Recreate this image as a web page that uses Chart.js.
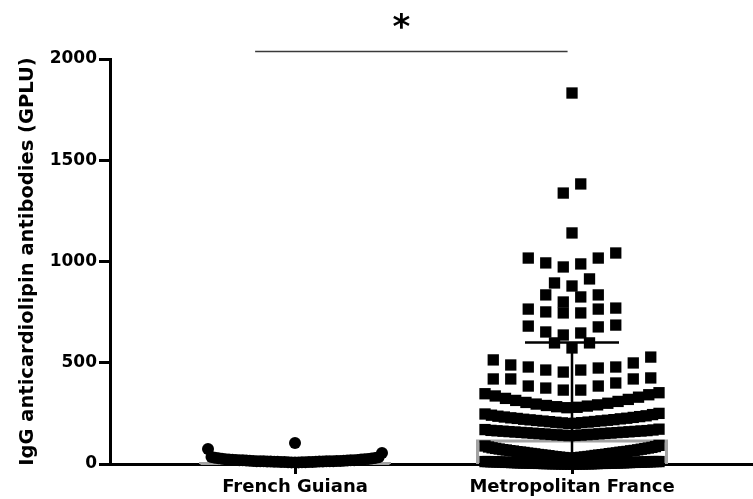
<!DOCTYPE html>
<html>
<head>
<meta charset="utf-8">
<script src="https://cdn.jsdelivr.net/npm/chart.js@4.4.1/dist/chart.umd.min.js"></script>
<style>
  html, body { margin: 0; padding: 0; background: #ffffff; overflow: hidden; }
  #wrap { position: relative; width: 753px; height: 499px; }
  canvas { display: block; }
</style>
</head>
<body>
<div id="wrap"><canvas id="chart"></canvas></div>
<script>
// ---------------- DATA ----------------
const categories = ['French Guiana', 'Metropolitan France'];
const categoryPositions = [1, 2];
const yTickValues = [0, 500, 1000, 1500, 2000];
const yAxisTitle = 'IgG anticardiolipin antibodies (GPLU)';
const significanceLabel = '*';

// French Guiana (GPLU)
const guianaValues = [104, 74, 54, 35, 33, 31, 30, 28, 27, 26, 25, 24, 23, 22, 22, 21, 20, 20, 19, 19,
  18, 18, 17, 17, 16, 16, 15, 15, 15, 14, 14, 14, 13, 13, 13, 12, 12, 12, 12, 11, 11, 11,
  10, 10, 10, 10, 9, 9, 9, 8, 8, 8];

// Metropolitan France (GPLU), read band by band
const franceLowest = [0, 0, 0, 0, 0, 0, 0, 0, 1, 1, 1, 1, 1, 1, 2, 2, 2, 2, 2, 3, 3, 3, 3, 3,
  4, 4, 4, 4, 5, 5, 5, 5, 5, 6, 6, 6, 6, 7, 7, 7, 7, 8, 8, 8, 8, 9, 9, 9, 10, 10, 10, 10,
  11, 11, 11, 12, 12, 12, 12, 12];
const franceLow = [28, 29, 30, 31, 32, 33, 34, 35, 36, 37, 38, 39, 41, 42, 43, 44, 45, 46, 47, 48,
  50, 51, 52, 53, 54, 55, 57, 58, 59, 60, 61, 62, 64, 65, 66, 67, 69, 70, 71, 73, 74, 76, 77,
  79, 80, 82, 84, 86, 89, 92];
const franceBand150 = [140, 141, 142, 143, 144, 145, 146, 147, 148, 149, 150, 151, 152, 153, 154,
  155, 156, 157, 158, 159, 160, 161, 162, 163, 164, 165, 166, 168, 170, 172];
const franceBand220 = [200, 201, 203, 204, 206, 207, 209, 210, 212, 213, 215, 216, 218, 219, 221,
  223, 225, 226, 228, 230, 232, 234, 236, 238, 241, 244, 247, 250];
const franceBand300 = [278, 280, 283, 286, 289, 292, 296, 300, 304, 309, 314, 319, 324, 330, 336,
  342, 347, 352];
const franceUpper = [365, 365, 375, 385, 385, 400, 420, 420, 420, 425,
  454, 464, 464, 474, 479, 479, 489, 499, 514, 528,
  573, 598, 598, 637, 647, 652, 677, 681, 686,
  746, 746, 751, 765, 765, 770, 800, 825, 835, 835,
  879, 894, 914, 973, 988, 993, 1017, 1017, 1042,
  1141, 1338, 1383, 1832];

// summary bar (mean) and error bar (SD)
const groupMeans = [3, 114];
const groupSD = [14, 486];

// significance bracket (value space)
const sigBarX = [0.856, 1.984];
const sigBarY = 2037;
const sigLabelPos = [1.384, 2188];

const franceValues = [].concat(franceLowest, franceLow, franceBand150, franceBand220, franceBand300, franceUpper);

// ---------------- LAYOUT (scatter-dot swarm placement) ----------------
const PX_PER_CAT = 277;          // pixel distance between categories
function swarm(values, center, rightFirst) {
  const step = 17.5 / PX_PER_CAT, span = 174 / PX_PER_CAT;
  const sorted = values.slice().sort((a, b) => a - b);
  const rows = []; let row = [];
  for (const v of sorted) {
    if (row.length && (v - row[0] > 85 ||
        (row.length >= 3 && v - row[row.length - 1] > 25) ||
        row.length >= 60)) {
      rows.push(row); row = [];
    }
    row.push(v);
  }
  if (row.length) rows.push(row);
  const pts = [];
  rows.forEach(r => {
    const n = r.length;
    const s = n > 1 ? Math.min(step, span / (n - 1)) : 0;
    const slots = [];
    for (let i = 0; i < n; i++) slots.push((i - (n - 1) / 2) * s);
    slots.sort((a, b) => (Math.abs(a) - Math.abs(b)) || (rightFirst ? b - a : a - b));
    r.forEach((v, i) => pts.push({ x: center + slots[i], y: v }));
  });
  return pts;
}

// ---------------- OVERLAYS ----------------
const overlay = {
  id: 'overlay',
  beforeDatasetsDraw(chart) {
    const { ctx, scales: { x, y } } = chart;
    ctx.save();
    ctx.strokeStyle = '#a3a3a3';
    ctx.lineWidth = 3;
    categoryPositions.forEach((c, i) => {
      const xc = x.getPixelForValue(c), half = 94.5;
      const yTop = y.getPixelForValue(groupMeans[i]);
      const y0 = y.getPixelForValue(0);
      ctx.beginPath();
      ctx.moveTo(xc - half, y0);
      ctx.lineTo(xc - half, yTop);
      ctx.lineTo(xc + half, yTop);
      ctx.lineTo(xc + half, y0);
      ctx.stroke();
    });
    ctx.restore();
  },
  afterDatasetsDraw(chart) {
    const { ctx, scales: { x, y } } = chart;
    ctx.save();
    ctx.strokeStyle = '#000';
    ctx.lineWidth = 2.5;
    categoryPositions.forEach((c, i) => {
      const xc = x.getPixelForValue(c);
      const yHi = y.getPixelForValue(groupMeans[i] + groupSD[i]);
      const yLo = y.getPixelForValue(Math.max(0, groupMeans[i] - groupSD[i]));
      ctx.beginPath();
      ctx.moveTo(xc, yLo); ctx.lineTo(xc, yHi);
      ctx.moveTo(xc - 47, yHi); ctx.lineTo(xc + 47, yHi);
      ctx.stroke();
    });
    ctx.restore();
  },
  afterDraw(chart) {
    const { ctx, scales: { x, y } } = chart;
    ctx.save();
    ctx.strokeStyle = '#3a3a3a';
    ctx.lineWidth = 1.6;
    const yy = y.getPixelForValue(sigBarY);
    ctx.beginPath();
    ctx.moveTo(x.getPixelForValue(sigBarX[0]), yy);
    ctx.lineTo(x.getPixelForValue(sigBarX[1]), yy);
    ctx.stroke();
    ctx.fillStyle = '#000';
    ctx.font = 'bold 34px "DejaVu Sans"';
    ctx.textAlign = 'center';
    ctx.textBaseline = 'alphabetic';
    const m = ctx.measureText(significanceLabel);
    const cx = x.getPixelForValue(sigLabelPos[0]);
    const cy = y.getPixelForValue(sigLabelPos[1]);
    ctx.fillText(significanceLabel, cx, cy + (m.actualBoundingBoxAscent - m.actualBoundingBoxDescent) / 2);
    ctx.restore();
  }
};

// ---------------- CHART ----------------
new Chart(document.getElementById('chart'), {
  type: 'scatter',
  data: {
    datasets: [
      {
        label: categories[1],
        data: swarm(franceValues, categoryPositions[1], false),
        pointStyle: 'rect',
        pointRadius: 8,
        backgroundColor: '#000',
        borderWidth: 0,
        clip: false
      },
      {
        label: categories[0],
        data: swarm(guianaValues, categoryPositions[0], true),
        pointStyle: 'circle',
        pointRadius: 6,
        backgroundColor: '#000',
        borderWidth: 0,
        clip: false
      }
    ]
  },
  options: {
    responsive: true,
    maintainAspectRatio: false,
    animation: false,
    events: [],
    layout: { autoPadding: false, padding: { top: 59, right: 0, left: 0, bottom: 0 } },
    plugins: { legend: { display: false }, tooltip: { enabled: false } },
    scales: {
      x: {
        type: 'linear',
        min: 0.3321,
        max: 2.6534,
        afterBuildTicks: (scale) => { scale.ticks = categoryPositions.map(v => ({ value: v })); },
        afterFit: (scale) => { scale.height = 35; },
        border: { display: true, color: '#000', width: 3 },
        grid: { drawOnChartArea: false, drawTicks: true, tickLength: 10, tickWidth: 3, tickColor: '#000' },
        ticks: {
          autoSkip: false, maxRotation: 0, minRotation: 0, padding: 3, color: '#000',
          font: { family: '"DejaVu Sans"', size: 18, weight: 'bold' },
          callback: (v) => categories[categoryPositions.indexOf(v)]
        }
      },
      y: {
        type: 'linear',
        min: yTickValues[0],
        max: yTickValues[yTickValues.length - 1],
        afterBuildTicks: (scale) => { scale.ticks = yTickValues.map(v => ({ value: v })); },
        afterFit: (scale) => { scale.width = 110; },
        border: { display: true, color: '#000', width: 3 },
        grid: { drawOnChartArea: false, drawTicks: true, tickLength: 11, tickWidth: 3, tickColor: '#000' },
        ticks: {
          padding: 2, color: '#000',
          font: { family: '"DejaVu Sans"', size: 17, weight: 'bold' },
          callback: (v) => String(v)
        },
        title: {
          display: true, text: yAxisTitle, color: '#000',
          padding: { top: 16, bottom: 0 },
          font: { family: '"DejaVu Sans"', size: 19.5, weight: 'bold' }
        }
      }
    }
  },
  plugins: [overlay]
});
</script>
</body>
</html>
